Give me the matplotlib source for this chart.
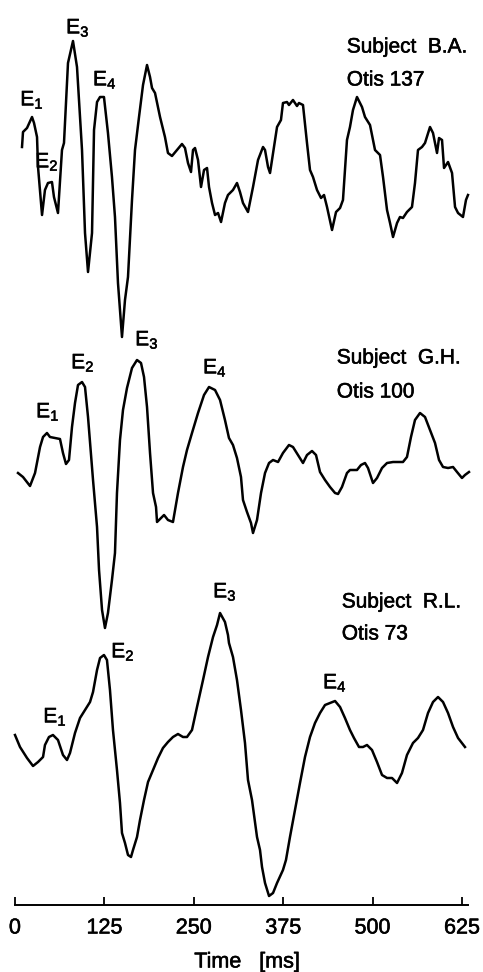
import matplotlib
matplotlib.use("Agg")
import matplotlib.pyplot as plt
import matplotlib.patheffects as pe

plt.rcParams["font.family"] = ["Liberation Sans", "DejaVu Sans"]
plt.rcParams["mathtext.fontset"] = "custom"
plt.rcParams["mathtext.rm"] = "Liberation Sans"
plt.rcParams["mathtext.default"] = "regular"

# --- данные (время в мс, амплитуда в усл. ед.) ---
t_ba = [9.8, 11.2, 16.8, 23.8, 26.6, 30.8, 32.2, 37.8, 41.9, 46.1, 51.7, 54.5, 60.1, 65.7, 68.5,
        74.1, 81.1, 86.7, 93.7, 97.9, 102.1, 107.7, 110.5, 114.7, 118.9, 124.4, 130.0, 135.6,
        139.8, 144.0, 149.6, 153.8, 158.0, 163.6, 167.8, 173.4, 179.0, 184.6, 188.8, 191.6,
        195.8, 202.8, 209.7, 213.9, 219.5, 226.5, 233.5, 237.7, 241.9, 246.1, 248.9, 251.7,
        255.9, 260.1, 264.3, 268.5, 271.3, 275.5, 279.7, 283.9, 288.1, 293.6, 297.8, 304.8,
        310.4, 314.6, 318.8, 325.8, 332.8, 339.8, 346.8, 349.6, 353.8, 356.6, 360.8, 366.4,
        371.9, 374.7, 380.3, 383.1, 388.7, 394.3, 397.1, 402.7, 408.3, 412.5, 416.7, 422.3,
        427.9, 432.1, 436.3, 443.3, 448.9, 454.5, 458.6, 464.2, 468.4, 472.6, 478.2, 485.2,
        489.4, 496.4, 503.4, 510.4, 514.6, 520.2, 524.4, 528.6, 534.2, 538.3, 542.5, 548.1,
        555.1, 559.3, 563.5, 569.1, 573.3, 580.3, 584.5, 590.1, 592.9, 597.1, 599.9, 605.5,
        611.1, 615.3, 619.5, 626.4, 630.6, 633.4]
a_ba = [33, 48, 52, 63, 57, 43, 13, -35, -10, -3, -2, -17, -33, 30, 37,
        117, 139, 113, 30, -53, -92, -53, 50, 78, 83, 83, 47, 3,
        -37, -103, -157, -120, -97, -20, 30, 63, 95, 115, 103, 92,
        87, 63, 43, 27, 24, 30, 36, 32, 17, 8, 30, 32,
        20, -7, 10, 12, -7, -23, -35, -33, -42, -23, -15, -10,
        -3, -12, -23, -32, -7, 20, 33, 30, 13, 7, 27, 53,
        60, 77, 78, 75, 80, 74, 77, 75, 37, 10, 3, -10,
        -18, -15, -27, -50, -32, -28, -20, 40, 53, 70, 83, 73,
        63, 55, 30, 25, 3, -30, -43, -57, -43, -37, -38, -32,
        -27, -3, 30, 33, 37, 53, 47, 27, 42, 40, 12, 18,
        7, -27, -33, -37, -20, -15]

t_gh = [4.2, 11.2, 21.0, 28.0, 35.0, 39.2, 44.7, 48.9, 55.9, 62.9, 67.1, 71.3, 75.5, 79.7,
        83.9, 88.1, 93.7, 97.9, 102.1, 109.1, 114.7, 117.5, 121.7, 125.8, 130.0, 135.6, 139.8,
        142.6, 146.8, 151.0, 156.6, 163.6, 170.6, 176.2, 180.4, 184.6, 188.8, 193.0, 197.2,
        198.6, 205.6, 208.4, 213.9, 220.9, 227.9, 234.9, 240.5, 247.5, 255.9, 264.3, 271.3,
        279.7, 286.7, 293.6, 299.2, 304.8, 310.4, 316.0, 318.8, 324.4, 330.0, 332.8, 338.4,
        344.0, 349.6, 355.2, 360.8, 367.8, 374.7, 383.1, 388.7, 395.7, 402.7, 408.3, 415.3,
        420.9, 426.5, 433.5, 440.5, 447.5, 451.7, 457.2, 464.2, 468.4, 478.2, 483.8, 489.4,
        493.6, 500.6, 506.2, 513.2, 520.2, 528.6, 542.5, 548.1, 553.7, 559.3, 566.3, 573.3,
        580.3, 587.3, 592.9, 598.5, 605.5, 612.5, 618.1, 625.0, 629.2, 634.8]
a_gh = [-3, -7, -16, -3, 23, 33, 37, 33, 32, 31, 17, 6, 10, 43,
        67, 85, 88, 83, 53, -10, -57, -100, -140, -158, -143, -110, -83,
        -23, 30, 60, 82, 102, 110, 107, 93, 63, 17, -23, -37,
        -52, -47, -45, -50, -52, -23, 3, 20, 37, 57, 75, 83,
        80, 70, 50, 32, 25, 12, -7, -30, -42, -53, -63, -50,
        -23, -3, 7, 10, 8, 17, 25, 23, 15, 7, 15, 19,
        15, -2, -10, -17, -23, -24, -17, -3, 0, 0, 5, 7,
        2, -13, -8, 2, 7, 8, 8, 13, 33, 50, 57, 53,
        40, 27, 10, 3, 2, 3, -2, -8, -5, -2]

t_rl = [0, 7.0, 16.8, 25.2, 32.2, 39.2, 41.9, 47.5, 53.1, 60.1, 67.1, 72.7, 76.9, 83.9,
        90.9, 97.9, 104.9, 109.1, 114.7, 118.9, 124.4, 128.6, 132.8, 137.0, 142.6, 146.8,
        149.6, 153.8, 158.0, 162.2, 165.0, 170.6, 174.8, 180.4, 186.0, 193.0, 200.0, 206.9,
        213.9, 220.9, 227.9, 234.9, 240.5, 247.5, 254.5, 262.9, 269.9, 276.9, 282.5, 286.7,
        293.6, 297.8, 299.2, 304.8, 310.4, 316.0, 321.6, 325.8, 331.4, 338.4, 342.6, 345.4,
        349.6, 355.2, 360.8, 366.4, 374.7, 378.9, 384.5, 391.5, 398.5, 405.5, 412.5, 419.5,
        426.5, 433.5, 440.5, 447.5, 454.5, 461.4, 468.4, 474.0, 481.0, 486.6, 492.2, 499.2,
        506.2, 513.2, 520.2, 527.2, 534.2, 541.1, 548.1, 556.5, 563.5, 570.5, 577.5, 584.5,
        591.5, 598.5, 605.5, 612.5, 619.5, 629.2]
a_rl = [25, 13, 2, -6, -2, 3, 15, 23, 25, 20, 5, 0, 7, 27,
        42, 50, 58, 68, 90, 102, 105, 100, 70, 30, -10, -43,
        -73, -83, -95, -97, -90, -77, -60, -40, -22, -10, 2, 12,
        18, 23, 26, 23, 23, 30, 53, 80, 103, 123, 135, 147,
        138, 125, 117, 103, 80, 50, 17, -20, -40, -77, -90, -107,
        -123, -136, -133, -123, -110, -100, -77, -50, -23, 3, 23, 37,
        47, 55, 57, 59, 53, 42, 30, 22, 13, 13, 15, 10,
        -2, -15, -18, -18, -23, -13, 5, 17, 22, 30, 47, 58,
        63, 58, 47, 33, 22, 13]

subjects = ["Subject  B.A.", "Subject  G.H.", "Subject  R.L."]
otis = ["Otis 137", "Otis 100", "Otis 73"]
peak_names = ["E$_1$", "E$_2$", "E$_3$", "E$_4$"]
# позиции подписей пиков (мс, амплитуда)
peaks_ba = [(23.8, 80), (44.7, 18), (88.0, 152), (125.8, 100)]
peaks_gh = [(46.0, 58), (95.0, 107), (184.6, 130), (279.7, 102)]
peaks_rl = [(56.0, 43), (151.0, 108), (293.6, 168), (447.5, 77)]
xticks = [0, 125, 250, 375, 500, 625]

traces = [(t_ba, a_ba, peaks_ba), (t_gh, a_gh, peaks_gh), (t_rl, a_rl, peaks_rl)]
offsets = [180, 470, 760]
name_pos = [(464, 133, 100), (450, 112, 78), (457, 158, 126)]

heavy = [pe.withStroke(linewidth=0.4, foreground="black")]

fig = plt.figure(figsize=(4.83, 9.72), dpi=100)
ax = fig.add_axes([0, 67 / 972, 1, 905 / 972])
ax.set_xlim(-20.97, 654.4)
ax.set_ylim(905, 0)

for (t, a, pk), off, (nx, ny1, ny2), subj, ot in zip(traces, offsets, name_pos, subjects, otis):
    ax.plot(t, [off - v for v in a], color="black", lw=1.8, solid_joinstyle="round")
    for (px, pa), nm in zip(pk, peak_names):
        ax.text(px, off - pa, nm, fontsize=15, ha="center", va="center", path_effects=heavy)
    ax.text(nx, off - ny1, subj, fontsize=15, ha="left", va="center", path_effects=heavy)
    ax.text(nx, off - ny2, ot, fontsize=15, ha="left", va="center", path_effects=heavy)

for s in ["left", "right", "top"]:
    ax.spines[s].set_visible(False)
ax.spines["bottom"].set_bounds(0, 634)
ax.spines["bottom"].set_linewidth(1.4)
ax.set_yticks([])
ax.set_xticks(xticks)
ax.set_xticklabels([str(v) for v in xticks])
ax.tick_params(axis="x", direction="in", length=6, width=1.3, pad=9, labelsize=15.5)
for lbl in ax.get_xticklabels():
    lbl.set_path_effects(heavy)

fig.text(247 / 483, 1 - 962 / 972, "Time   [ms]", fontsize=15.5, ha="center", va="center",
         path_effects=heavy)

fig.savefig("out.png", dpi=100)
